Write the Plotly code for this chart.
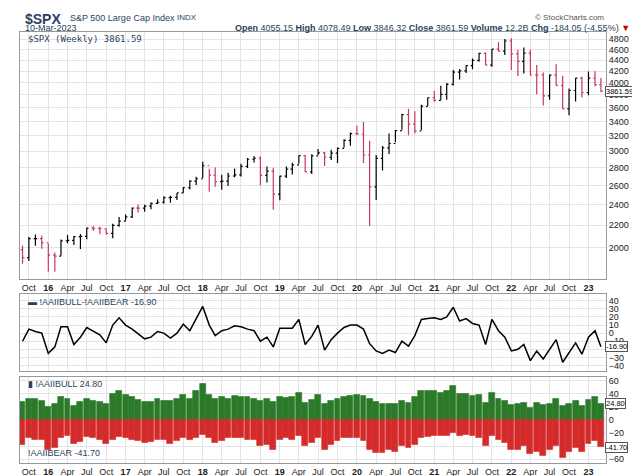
import plotly.graph_objects as go
import pandas as pd
import math

dates = pd.date_range("2015-09-01", "2023-03-01", freq="MS")

spx_close = [1920,2079,2080,2044,
 1940,1932,2060,2065,2097,2099,2174,2171,2168,2126,2199,2239,
 2279,2364,2363,2384,2412,2423,2470,2472,2519,2575,2648,2674,
 2824,2714,2641,2648,2705,2718,2816,2902,2914,2712,2760,2507,
 2704,2784,2834,2946,2752,2942,2980,2926,2977,3038,3141,3231,
 3226,2954,2585,2912,3044,3100,3271,3500,3363,3270,3622,3756,
 3714,3811,3973,4181,4204,4298,4395,4523,4308,4605,4567,4766,
 4516,4374,4530,4132,4132,3785,4130,3955,3586,3872,4080,3840,
 4077,3970,3862]
spx_open = [1986] + spx_close[:-1]
spx_low = [1872,1893,2019,1993,
 1812,1810,1937,2039,2025,1992,2074,2147,2119,2114,2084,2187,
 2245,2267,2322,2329,2353,2405,2407,2417,2446,2520,2557,2605,
 2683,2533,2585,2553,2595,2691,2699,2796,2864,2603,2631,2347,
 2444,2682,2722,2849,2750,2728,2953,2822,2892,2856,3050,3070,
 3214,2856,2192,2447,2767,2965,3115,3283,3209,3234,3280,3633,
 3695,3725,3723,3955,4056,4165,4234,4368,4305,4279,4560,4495,
 4222,4115,4157,4124,3811,3637,3723,3955,3585,3491,3698,3764,
 3794,3943,3846]
spx_high = [2021,2094,2117,2104,
 2038,1963,2073,2112,2103,2121,2178,2193,2187,2170,2214,2278,
 2301,2371,2401,2398,2419,2454,2484,2491,2519,2582,2658,2695,
 2873,2789,2802,2718,2742,2791,2848,2916,2941,2940,2815,2800,
 2708,2814,2860,2949,2955,2964,3028,2990,3021,3050,3155,3248,
 3338,3394,3136,2955,3068,3233,3280,3514,3588,3550,3646,3760,
 3870,3951,3994,4218,4238,4302,4430,4538,4546,4608,4743,4808,
 4819,4595,4637,4594,4308,4177,4141,4325,4119,3905,4080,4101,
 4195,4196,4079]

bull = [28,33,32,30,
 20,25,35,33,22,28,33,30,28,24,40,45,
 38,35,31,28,28,32,30,30,32,39,33,45,
 55,38,32,35,33,37,36,35,33,30,33,28,
 36,34,36,42,26,31,38,24,30,32,35,37,
 38,37,32,28,25,24,24,30,26,35,45,44,
 44,42,45,52,40,40,37,38,26,42,33,30,
 23,25,26,18,26,23,25,32,22,24,30,22,
 31,35,24.8]
bear = [-38,-28,-30,-30,
 -45,-42,-27,-25,-36,-33,-26,-27,-30,-36,-30,-26,
 -28,-30,-32,-35,-33,-30,-30,-36,-32,-28,-30,-27,
 -22,-28,-35,-32,-28,-28,-28,-30,-30,-40,-38,-45,
 -30,-28,-30,-25,-40,-35,-28,-45,-38,-32,-28,-27,
 -28,-32,-45,-50,-50,-45,-48,-40,-42,-38,-28,-26,
 -25,-25,-25,-20,-25,-22,-25,-28,-40,-25,-30,-35,
 -45,-45,-40,-52,-48,-55,-45,-40,-58,-48,-42,-48,
 -36,-32,-41.7]
spread = [b + s for b, s in zip(bull, bear)]

price_ticks = [2000,2200,2400,2600,2800,3000,3200,3400,3600,3800,4000,4200,4400,4600,4800]
tick_dates = pd.date_range("2015-10-01", "2023-01-01", freq="QS-JAN")
tick_text = []
for d in tick_dates:
    if d.month == 1:
        tick_text.append("<b>%02d</b>" % (d.year % 100))
    else:
        tick_text.append({4: "Apr", 7: "Jul", 10: "Oct"}[d.month])

fig = go.Figure()
fig.add_trace(go.Ohlc(x=dates, open=spx_open, high=spx_high, low=spx_low, close=spx_close,
    increasing_line_color="black", decreasing_line_color="#c8385a", line_width=1.2,
    xaxis="x", yaxis="y", showlegend=False))
fig.add_trace(go.Scatter(x=dates, y=spread, mode="lines", line=dict(color="black", width=1.5),
    xaxis="x2", yaxis="y2", showlegend=False))
fig.add_trace(go.Bar(x=dates, y=bull, marker=dict(color="#2a7a2a", line=dict(color="#2a7a2a", width=0.6)),
    xaxis="x3", yaxis="y3", showlegend=False))
fig.add_trace(go.Bar(x=dates, y=bear, marker=dict(color="#d42a2a", line=dict(color="#d42a2a", width=0.6)),
    xaxis="x3", yaxis="y3", showlegend=False))

xr = ["2015-08-20", "2023-03-25"]
ax = dict(range=xr, tickvals=tick_dates, showgrid=True, gridcolor="#e4e4e4",
          showline=True, linecolor="#999", mirror=True, ticks="", tickfont=dict(size=9, color="#222"),
          rangeslider=dict(visible=False))
ay = dict(side="right", showgrid=True, gridcolor="#e4e4e4", showline=True, linecolor="#999",
          mirror=True, ticks="", tickfont=dict(size=9, color="#222"), zeroline=False)
fig.update_layout(
    width=640, height=476, margin=dict(l=12, r=42, t=0, b=0),
    paper_bgcolor="white", plot_bgcolor="white", bargap=0, barmode="overlay",
    font=dict(family="Liberation Sans"),
    xaxis=dict(ax, domain=[0, 1], anchor="y", ticktext=tick_text),
    xaxis2=dict(ax, domain=[0, 1], anchor="y2", matches="x", showticklabels=False),
    xaxis3=dict(ax, domain=[0, 1], anchor="y3", matches="x", ticktext=tick_text),
    yaxis=dict(ay, domain=[0.431, 0.952], type="log", range=[3.245, 3.695], tickvals=price_ticks),
    yaxis2=dict(ay, domain=[0.236, 0.398], range=[-47, 48], tickvals=[-40,-30,-20,-10,0,10,20,30,40]),
    yaxis3=dict(ay, domain=[0.042, 0.224], range=[-66, 66], tickvals=[-60,-40,-20,0,20,40,60]),
)
ann = [
    dict(x=0.005, y=1.0, text="<b>$SPX</b>", font=dict(size=14)),
    dict(x=0.082, y=0.995, text="S&P 500 Large Cap Index", font=dict(size=9)),
    dict(x=0.265, y=0.995, text="INDX", font=dict(size=8)),
    dict(x=0.005, y=0.974, text="10-Mar-2023", font=dict(size=9)),
    dict(x=1.0, y=0.995, text="© StockCharts.com", font=dict(size=8, color="#555"), xanchor="right"),
    dict(x=1.045, y=0.974, xanchor="right", font=dict(size=9),
         text="<b>Open</b> 4055.15 <b>High</b> 4078.49 <b>Low</b> 3846.32 <b>Close</b> 3861.59 <b>Volume</b> 12.2B <b>Chg</b> -184.05 (-4.55%) <span style='color:#c00'>▼</span>"),
    dict(x=0.01, y=0.951, text="$SPX (Weekly) 3861.59", font=dict(size=9, family="DejaVu Sans Mono")),
    dict(x=0.01, y=0.397, text="▬ !AAIIBULL-!AAIIBEAR -16.90", font=dict(size=9)),
    dict(x=0.01, y=0.223, text="▮ !AAIIBULL 24.80", font=dict(size=9)),
    dict(x=0.01, y=0.078, text="!AAIIBEAR -41.70", font=dict(size=9)),
]
for a in ann:
    a.update(xref="paper", yref="paper", showarrow=False, yanchor="top")
    a.setdefault("xanchor", "left")
    fig.add_annotation(**a)
for yv, yref, txt in [(3861.59, "y", "3861.59"), (-16.9, "y2", "-16.90"), (24.8, "y3", "24.80"), (-41.7, "y3", "-41.70")]:
    fig.add_annotation(x=0.998, xref="paper", y=math.log10(yv) if yref == "y" else yv, yref=yref,
        text=txt, showarrow=False, xanchor="left", font=dict(size=7.5, color="black"),
        bgcolor="white", bordercolor="#555", borderwidth=1, borderpad=0)
fig.write_html("out.html")
